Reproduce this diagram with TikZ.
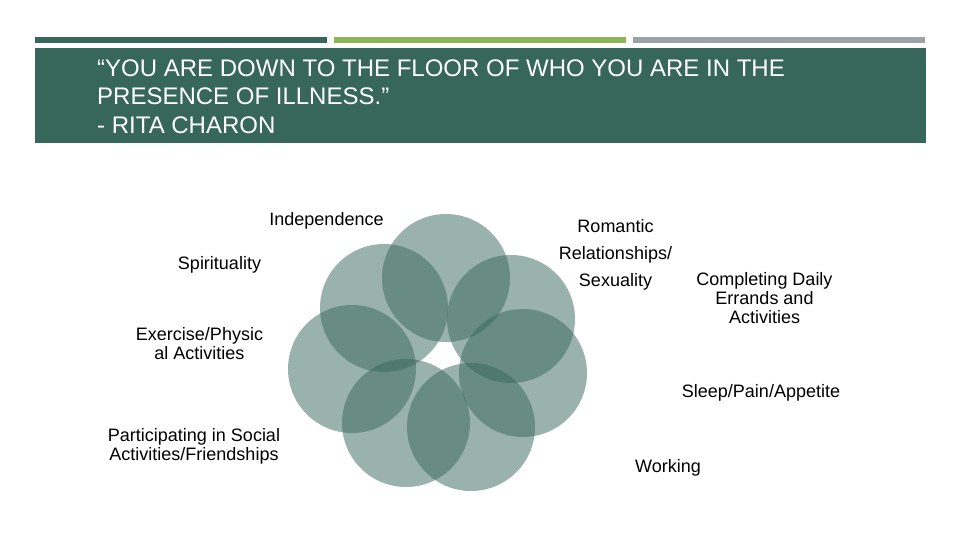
\documentclass[tikz,border=0pt]{standalone}
\usepackage{fontspec}
\setmainfont{Liberation Sans}
\definecolor{dkgreen}{HTML}{37675A}
\definecolor{ltgreen}{HTML}{8CB454}
\definecolor{greybar}{HTML}{9BA2A8}
\begin{document}
\begin{tikzpicture}[x=1pt,y=-1pt,
  bar/.style={fill=#1,draw=none},
  petal/.style={circle,fill=dkgreen,fill opacity=0.5,draw=none,minimum size=128pt,inner sep=0pt},
  lbl/.style={anchor=base,inner sep=0pt,align=center,font=\fontsize{18}{19}\selectfont,text=black},
  lblwide/.style={lbl,font=\fontsize{18}{27}\selectfont},
  title/.style={anchor=base west,inner sep=0pt,align=left,text=white,font=\fontsize{24}{28.3}\selectfont}]
\useasboundingbox (0,0) rectangle (960,540);
\fill[white] (0,0) rectangle (960,540);
% top bars
\fill[bar=dkgreen] (35,37) rectangle (327,43);
\fill[bar=ltgreen] (334,37) rectangle (626,43);
\fill[bar=greybar] (633,37) rectangle (925,43);
% title box
\fill[bar=dkgreen] (35,48) rectangle (926,143);
\node[title] (ttl) at (97,133.3) {“YOU ARE DOWN TO THE FLOOR OF WHO YOU ARE IN THE\\PRESENCE OF ILLNESS.”\\- RITA CHARON};
% petals
\node[petal] (cT) at (446,278) {};
\node[petal] (cUR) at (511,319) {};
\node[petal] (cR) at (523,373) {};
\node[petal] (cB) at (471,427) {};
\node[petal] (cBL) at (406,423) {};
\node[petal] (cL) at (352,369) {};
\node[petal] (cUL) at (384,308) {};
% labels
\node[lbl] (lInd) at (326.5,225) {Independence};
\node[lbl] (lSpi) at (219.5,269) {Spirituality};
\node[lbl] (lExe) at (199.5,359.5) {Exercise/Physic\\al Activities};
\node[lbl] (lSoc) at (194,460) {Participating in Social\\Activities/Friendships};
\node[lblwide] (lRom) at (615.5,286) {Romantic\\Relationships/\\Sexuality};
\node[lbl] (lDai) at (764.5,323) {Completing Daily\\Errands and\\Activities};
\node[lbl] (lSle) at (761,397) {Sleep/Pain/Appetite};
\node[lbl] (lWor) at (668,472) {Working};
\end{tikzpicture}
\end{document}
